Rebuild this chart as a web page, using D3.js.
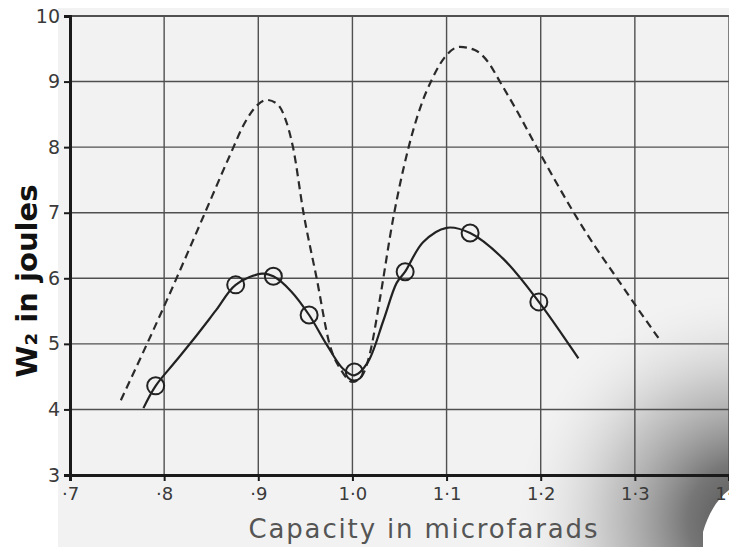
<!DOCTYPE html>
<html>
<head>
<meta charset="utf-8">
<script src="https://cdn.jsdelivr.net/npm/d3@7/dist/d3.min.js"></script>
<style>
  html, body { margin: 0; padding: 0; background: #ffffff; }
  svg { display: block; }
</style>
</head>
<body>
<svg id="chart" width="729" height="547"></svg>
<script>
// ---- data ----
const xTicks = [0.7, 0.8, 0.9, 1.0, 1.1, 1.2, 1.3, 1.4];
const xTickLabels = ["\u00B77", "\u00B78", "\u00B79", "1\u00B70", "1\u00B71", "1\u00B72", "1\u00B73", "1\u00B74"];
const yTicks = [3, 4, 5, 6, 7, 8, 9, 10];
const yTickLabels = ["3", "4", "5", "6", "7", "8", "9", "10"];

// measured points (circles)
const measuredX = [0.791, 0.876, 0.916, 0.954, 1.002, 1.056, 1.125, 1.198];
const measuredY = [4.36, 5.90, 6.03, 5.44, 4.57, 6.10, 6.69, 5.64];

// solid curve through the measurements
const solidX = [0.778, 0.791, 0.812, 0.834, 0.855, 0.876, 0.904, 0.916, 0.935, 0.954, 0.973, 0.99, 1.002, 1.016, 1.033, 1.047, 1.056, 1.075, 1.100, 1.125, 1.16, 1.198, 1.240];
const solidY = [4.02, 4.36, 4.73, 5.12, 5.51, 5.90, 6.07, 6.03, 5.80, 5.44, 4.98, 4.62, 4.52, 4.71, 5.36, 5.93, 6.10, 6.55, 6.77, 6.69, 6.30, 5.64, 4.78];

// dashed curve
const dashX = [0.754, 0.803, 0.841, 0.870, 0.886, 0.899, 0.909, 0.920, 0.928, 0.937, 0.948, 0.962, 0.976, 0.988, 1.000, 1.010, 1.019, 1.029, 1.043, 1.059, 1.072, 1.085, 1.098, 1.114, 1.130, 1.144, 1.157, 1.176, 1.196, 1.215, 1.236, 1.258, 1.281, 1.303, 1.325];
const dashY = [4.14, 5.67, 6.92, 7.88, 8.38, 8.64, 8.72, 8.66, 8.46, 7.99, 7.00, 6.00, 4.98, 4.60, 4.42, 4.51, 4.88, 5.67, 6.89, 7.96, 8.60, 9.05, 9.37, 9.53, 9.48, 9.30, 8.99, 8.52, 7.99, 7.50, 6.98, 6.48, 6.00, 5.54, 5.09];

// ---- drawing ----
const W = 729, H = 547;
const svg = d3.select("#chart");
const x = d3.scaleLinear().domain([0.7, 1.4]).range([70, 729]);
const y = d3.scaleLinear().domain([3, 10]).range([475, 16]);

// paper background with scan shading
const defs = svg.append("defs");
const rg = defs.append("radialGradient").attr("id", "shade")
  .attr("gradientUnits", "userSpaceOnUse")
  .attr("cx", 745).attr("cy", 520).attr("r", 230);
rg.append("stop").attr("offset", "0%").attr("stop-color", "#505050").attr("stop-opacity", 1);
rg.append("stop").attr("offset", "25%").attr("stop-color", "#707070").attr("stop-opacity", 0.95);
rg.append("stop").attr("offset", "60%").attr("stop-color", "#ababab").attr("stop-opacity", 0.6);
rg.append("stop").attr("offset", "100%").attr("stop-color", "#e8e8e8").attr("stop-opacity", 0);

svg.append("rect").attr("x", 0).attr("y", 0).attr("width", W).attr("height", H).attr("fill", "#ffffff");
svg.append("rect").attr("x", 58).attr("y", 8).attr("width", W - 58).attr("height", H - 8).attr("fill", "#f2f2f2");
svg.append("rect").attr("x", 0).attr("y", 0).attr("width", W).attr("height", H).attr("fill", "url(#shade)");
// torn white corner of the scan
svg.append("path")
  .attr("d", "M729,490 C716,500 708,515 703,532 L703,547 L729,547 Z")
  .attr("fill", "#ffffff");

const gridColor = "#505050";
// grid verticals
svg.append("g").selectAll("line").data(xTicks.slice(1)).join("line")
  .attr("x1", d => x(d)).attr("x2", d => x(d))
  .attr("y1", y(10)).attr("y2", y(3))
  .attr("stroke", gridColor).attr("stroke-width", 1.4);
// grid horizontals
svg.append("g").selectAll("line").data(yTicks.slice(1)).join("line")
  .attr("x1", x(0.7)).attr("x2", x(1.4))
  .attr("y1", d => y(d)).attr("y2", d => y(d))
  .attr("stroke", gridColor).attr("stroke-width", d => d === 10 ? 2 : 1.4);

const tickFont = "'DejaVu Sans', sans-serif";
// axes
const xAxis = d3.axisBottom(x).tickValues(xTicks)
  .tickFormat((d, i) => xTickLabels[i]).tickSize(6).tickPadding(6);
const gx = svg.append("g").attr("transform", `translate(0,${y(3)})`).call(xAxis);
gx.select(".domain").attr("stroke", "#1a1a1a").attr("stroke-width", 3);
gx.selectAll(".tick line").attr("stroke", "#1a1a1a").attr("stroke-width", 2);
gx.selectAll(".tick text").attr("font-family", tickFont).attr("font-size", 18)
  .attr("fill", "#3a3a3a");

const yAxis = d3.axisLeft(y).tickValues(yTicks)
  .tickFormat((d, i) => yTickLabels[i]).tickSize(6).tickPadding(4);
const gy = svg.append("g").attr("transform", `translate(${x(0.7)},0)`).call(yAxis);
gy.select(".domain").attr("stroke", "#1a1a1a").attr("stroke-width", 3);
gy.selectAll(".tick line").attr("stroke", "#1a1a1a").attr("stroke-width", 2);
gy.selectAll(".tick text").attr("font-family", tickFont).attr("font-size", 19)
  .attr("fill", "#3a3a3a");

// curves
const dashLine = d3.line().x(d => x(d[0])).y(d => y(d[1])).curve(d3.curveMonotoneX);
const solidLine = d3.line().x(d => x(d[0])).y(d => y(d[1])).curve(d3.curveCatmullRom.alpha(0.5));
const dashData = dashX.map((v, i) => [v, dashY[i]]);
const solidData = solidX.map((v, i) => [v, solidY[i]]);

svg.append("path").datum(dashData).attr("d", dashLine)
  .attr("fill", "none").attr("stroke", "#2a2a2a").attr("stroke-width", 2.2)
  .attr("stroke-dasharray", "8,5");
svg.append("path").datum(solidData).attr("d", solidLine)
  .attr("fill", "none").attr("stroke", "#222").attr("stroke-width", 2.2);

// circles
svg.append("g").selectAll("circle").data(measuredX.map((v, i) => [v, measuredY[i]])).join("circle")
  .attr("cx", d => x(d[0])).attr("cy", d => y(d[1])).attr("r", 8.5)
  .attr("fill", "none").attr("stroke", "#222").attr("stroke-width", 2);

// axis titles
svg.append("text")
  .attr("transform", `translate(37,281) rotate(-90)`)
  .attr("text-anchor", "middle")
  .attr("font-family", "'DejaVu Sans', sans-serif").attr("font-size", 29)
  .attr("font-weight", "bold").attr("fill", "#111")
  .text("W\u2082 in joules");

svg.append("text")
  .attr("x", 423).attr("y", 538)
  .attr("text-anchor", "middle")
  .attr("font-family", "'DejaVu Sans', sans-serif").attr("font-size", 26)
  .attr("fill", "#555")
  .attr("textLength", 349).attr("lengthAdjust", "spacing")
  .text("Capacity in microfarads");
</script>
</body>
</html>
